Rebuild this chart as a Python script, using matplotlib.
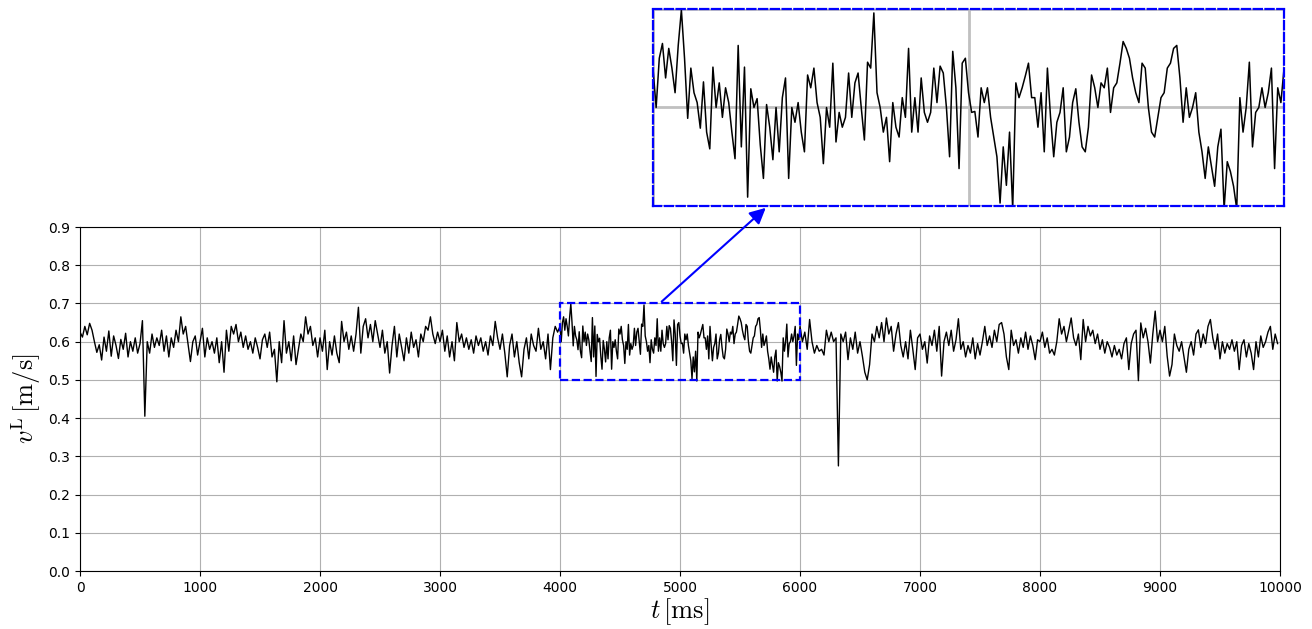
import numpy as np
import matplotlib
matplotlib.use("Agg")
import matplotlib.pyplot as plt
from matplotlib.patches import Rectangle

plt.rcParams["mathtext.fontset"] = "cm"

# velocity in mm/s
# 0 - 4000 ms, every 20 ms
v_a = [625, 612, 640, 618, 648, 630, 600, 572, 592, 552, 612, 575, 628, 562, 615, 590, 556, 606, 580, 622,
       560, 600, 575, 610, 570, 595, 655, 405, 600, 570, 620, 585, 610, 590, 630, 575, 615, 560, 610, 585,
       630, 600, 665, 620, 640, 595, 548, 600, 615, 565,
       600, 635, 560, 610, 580, 600, 570, 610, 545, 600, 520, 630, 575, 640, 620, 645, 600, 625, 585, 615,
       580, 600, 570, 610, 585, 555, 605, 620, 585, 625, 560, 580, 495, 600, 545, 655, 570, 600, 550, 615,
       540, 580, 620, 600, 665, 620, 640, 590, 610, 560,
       610, 575, 630, 527, 600, 565, 615, 570, 545, 653, 600, 625, 580, 615, 575, 620, 690, 570, 640, 660,
       610, 645, 600, 655, 620, 585, 630, 570, 600, 518, 590, 640, 560, 620, 585, 550, 610, 570, 625, 585,
       605, 560, 620, 600, 640, 630, 665, 620, 595, 625,
       600, 630, 575, 615, 560, 600, 550, 650, 600, 620, 585, 610, 580, 605, 570, 615, 590, 610, 575, 600,
       565, 615, 590, 653, 610, 580, 620, 570, 508, 590, 620, 560, 600, 545, 508, 580, 610, 555, 620, 590,
       575, 635, 580, 600, 555, 620, 527, 610, 640, 625]

# 4000 - 6000 ms, every 10 ms (from the zoomed panel)
v_b = [640, 600, 650, 665, 630, 660, 640, 615, 663, 699, 650, 589, 640, 615, 605, 579, 626, 575, 558, 641,
       600, 625, 590, 620, 605, 575, 548, 663, 560, 641, 509, 619, 600, 609, 562, 528, 603, 580, 547, 600,
       555, 610, 630, 528, 600, 585, 605, 575, 555, 633, 620, 640, 605, 590, 543, 600, 580, 645, 565, 595,
       580, 590, 635, 590, 625, 635, 600, 567,
       646, 640, 696, 615, 600, 575, 590, 545, 605, 580, 570, 610, 590, 660, 575, 610, 575, 630, 595, 585,
       595, 640, 605, 642, 635, 600, 550, 657, 620, 538, 645, 650, 615, 595, 596, 570, 620, 605, 620, 590,
       570, 550, 503, 560, 521, 575, 497, 625, 610, 620, 632, 645, 610, 610, 580, 615, 555, 640, 590, 550,
       585, 595, 620, 555, 570, 605,
       619, 585, 560, 555, 580, 633, 620, 600, 625, 620, 640, 595, 620, 625, 645, 667, 660, 650, 630, 615,
       605, 645, 640, 600, 575, 570, 590, 610, 615, 640, 645, 660, 663, 630, 585, 620, 590, 600, 615, 575,
       555, 528, 560, 540, 520, 560, 578, 497, 545, 535, 520, 497, 610, 575, 600, 646, 560, 595, 600, 620,
       600, 615, 640, 538, 620, 605]

# 6000 - 10000 ms, every 20 ms
v_c = [640, 600, 625, 580, 658, 600, 570, 590, 575, 580, 565, 630, 600, 625, 600, 610, 275, 620, 600, 625,
       553, 610, 580, 625, 570, 600, 562, 520, 500, 540, 620, 600, 640, 610, 650, 600, 662, 620, 640, 575,
       620, 650, 590, 560, 600, 555, 630, 580, 527, 610,
       620, 580, 600, 544, 615, 590, 630, 575, 640, 510, 600, 625, 590, 630, 575, 605, 660, 580, 600, 560,
       590, 570, 610, 555, 595, 565, 600, 640, 590, 615, 585, 630, 600, 645, 650, 620, 560, 527, 630, 590,
       605, 570, 610, 585, 625, 580, 615, 590, 553, 605,
       600, 625, 585, 610, 570, 580, 565, 600, 660, 620, 640, 600, 630, 662, 610, 590, 620, 553, 658, 600,
       640, 615, 630, 595, 620, 580, 605, 570, 600, 585, 560, 590, 565, 580, 555, 595, 610, 527, 595, 620,
       630, 498, 649, 610, 635, 600, 544, 620, 680, 600,
       630, 600, 640, 562, 510, 540, 620, 590, 575, 600, 560, 520, 580, 600, 565, 620, 631, 585, 620, 595,
       640, 658, 610, 580, 620, 555, 600, 570, 595, 580, 605, 575, 600, 527, 590, 605, 560, 595, 570, 527,
       600, 560, 615, 585, 600, 625, 640, 580, 620, 595]

t = np.concatenate([np.arange(len(v_a)) * 20,
                    4000 + np.arange(len(v_b)) * 10,
                    6000 + np.arange(len(v_c)) * 20])
v = np.array(v_a + v_b + v_c) / 1000.0

fig = plt.figure(figsize=(13.12, 6.29), dpi=100)
ax = fig.add_axes([0.061, 0.0922, 0.9146, 0.5469])
ax.plot(t, v, color="black", lw=1.0)
ax.set_xlim(0, 10000)
ax.set_ylim(0, 0.9)
ax.set_xticks(np.arange(0, 10001, 1000))
ax.set_yticks(np.arange(0, 0.91, 0.1))
ax.grid(True, color="#b0b0b0", lw=0.8)
ax.set_xlabel(r"$t\,[\mathrm{ms}]$", fontsize=19, labelpad=1)
ax.set_ylabel(r"$v^{\mathrm{L}}\,[\mathrm{m/s}]$", fontsize=19)

# zoom box on the main plot
ax.add_patch(Rectangle((4000, 0.5), 2000, 0.2, fill=False, edgecolor="blue",
                       ls="--", lw=1.6, zorder=5))

# inset
axins = fig.add_axes([0.4977, 0.6725, 0.481, 0.3132])
axins.plot(t, v, color="black", lw=1.1)
axins.set_xlim(4000, 6000)
axins.set_ylim(0.5, 0.7)
axins.set_xticks([4000, 5000, 6000])
axins.set_yticks([0.5, 0.6, 0.7])
axins.tick_params(length=0, labelbottom=False, labelleft=False)
axins.grid(True, color="#c0c0c0", lw=2)
for s in axins.spines.values():
    s.set_edgecolor("blue")
    s.set_linestyle("--")
    s.set_linewidth(1.6)

ax.annotate("", xy=(0.182, 0.0), xycoords=axins.transAxes,
            xytext=(4830, 0.70), textcoords="data",
            arrowprops=dict(arrowstyle="-|>", color="blue", lw=1.5, mutation_scale=24))

fig.savefig("out.png", dpi=100)
